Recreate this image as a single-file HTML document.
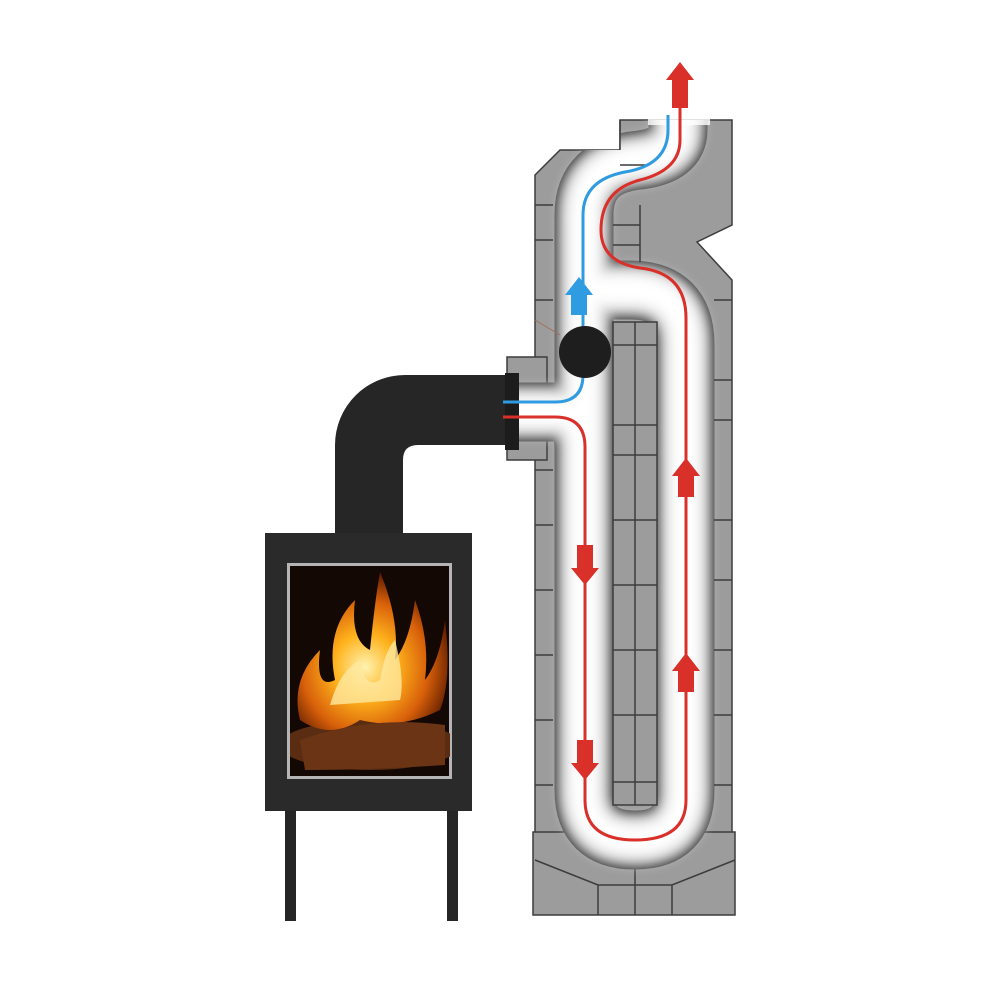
<!DOCTYPE html>
<html><head><meta charset="utf-8"><style>html,body{margin:0;padding:0;background:#fff}svg{display:block}</style></head>
<body>
<svg width="1000" height="1000" viewBox="0 0 1000 1000" xmlns="http://www.w3.org/2000/svg">
<defs>
<filter id="bl" x="-20%" y="-20%" width="140%" height="140%"><feGaussianBlur stdDeviation="5"/></filter>
<radialGradient id="fire" cx="0.45" cy="0.6" r="0.6">
<stop offset="0" stop-color="#fff3b0"/><stop offset="0.35" stop-color="#ffb21c"/><stop offset="0.7" stop-color="#d8600a"/><stop offset="1" stop-color="#5a1a00"/></radialGradient>
<clipPath id="cw"><rect x="290" y="566" width="160" height="211"/></clipPath>
<clipPath id="chc"><path d="M535,175 L560,150 L620,150 L620,120 L732,120 L732,225 L697,242 L732,280 L732,835 L735,835 L735,915 L533,915 L533,835 L535,835 Z M507,357 H547 V460 H507 Z"/></clipPath>
</defs>

<!-- chimney gray body -->
<g fill="#9c9c9c" stroke="#3c3c3c" stroke-width="1.5">
<path d="M535,175 L560,150 L620,150 L620,120 L732,120 L732,225 L697,242 L732,280 L732,835 L535,835 Z"/>
<rect x="507" y="357" width="40" height="103"/>
<path d="M533,832 L735,832 L735,915 L533,915 Z"/>
</g>
<g stroke="#3c3c3c" stroke-width="1.5" fill="none">
<path d="M535,860 L598,885 H672 L735,860 M635,865 V915 M598,885 V915 M672,885 V915"/>
</g>
<!-- channel -->
<g fill="none" stroke-linecap="butt" stroke-linejoin="round" clip-path="url(#chc)">
<path d="M505,412 H555 Q584,412 584,450 V790 Q584,840 635,840 Q685,840 685,790 V345 Q685,290 630,290 H590" stroke="#3c3c3c" stroke-width="59"/>
<path d="M584,450 V215 Q584,165 640,160 Q678,155 678,130 V100" stroke="#3c3c3c" stroke-width="59"/>
<g filter="url(#bl)">
<path d="M505,412 H555 Q584,412 584,450 V790 Q584,840 635,840 Q685,840 685,790 V345 Q685,290 630,290 H590" stroke="#bdbdbd" stroke-width="54"/>
<path d="M584,450 V215 Q584,165 640,160 Q678,155 678,130 V100" stroke="#bdbdbd" stroke-width="54"/>
<path d="M505,412 H555 Q584,412 584,450 V790 Q584,840 635,840 Q685,840 685,790 V345 Q685,290 630,290 H590" stroke="#f2f2f2" stroke-width="38"/>
<path d="M584,450 V215 Q584,165 640,160 Q678,155 678,130 V100" stroke="#f2f2f2" stroke-width="38"/>
<path d="M505,412 H555 Q584,412 584,450 V790 Q584,840 635,840 Q685,840 685,790 V345 Q685,290 630,290 H590" stroke="#fff" stroke-width="22"/>
<path d="M584,450 V215 Q584,165 640,160 Q678,155 678,130 V100" stroke="#fff" stroke-width="22"/>
</g>
</g>
<!-- top opening fade -->
<rect x="648" y="100" width="62" height="25" fill="#fff" opacity="0.8"/>
<!-- inner column -->
<g fill="#9c9c9c" stroke="#3c3c3c" stroke-width="1.5">
<rect x="613" y="322" width="44" height="483"/>
</g>
<g stroke="#3c3c3c" stroke-width="1.5" fill="none">
<line x1="635" y1="322" x2="635" y2="805"/>
<path d="M613,345 H657 M613,425 H657 M613,455 H657 M613,520 H657 M613,585 H657 M613,650 H657 M613,715 H657 M613,782 H657"/>
<path d="M535,470 H553 M535,525 H553 M535,590 H553 M535,655 H553 M535,720 H553 M535,785 H553 M535,300 H553 M535,240 H553 M535,205 H553"/>
<path d="M714,300 H732 M714,380 H732 M714,420 H732 M714,520 H732 M714,580 H732 M714,650 H732 M714,715 H732 M714,785 H732"/>
<path d="M613,225 H640 M613,245 H640 M640,205 V262 M620,120 V150 M620,165 H648"/>
</g>

<!-- stove pipe -->
<path d="M335,535 V445 A70,70 0 0 1 405,375 H517 V445 H418 Q403,445 403,460 V535 Z" fill="#262626"/>
<rect x="505" y="373" width="14" height="77" fill="#1c1c1c"/>
<!-- stove -->
<rect x="265" y="533" width="207" height="278" fill="#2a2a2a"/>
<rect x="287" y="563" width="165" height="216" fill="#b5b5b5"/>
<rect x="290" y="566" width="159" height="210" fill="#140804"/>
<g clip-path="url(#cw)">
<ellipse cx="370" cy="745" rx="90" ry="25" fill="#5a2c12"/>
<path d="M300,720 Q290,680 320,650 Q315,690 335,680 Q325,630 355,600 Q350,640 370,650 Q375,600 380,572 Q400,620 395,660 Q410,640 415,600 Q430,640 425,680 Q440,660 445,620 Q452,680 440,710 Q400,730 360,720 Q330,740 300,720 Z" fill="url(#fire)"/>
<path d="M330,705 Q340,670 360,660 Q365,690 380,680 Q385,650 395,640 Q405,680 400,700 Z" fill="#ffe9a0" opacity="0.8"/>
<path d="M300,740 Q370,715 445,725 L445,765 Q370,770 305,770 Z" fill="#6b3515"/>
</g>
<rect x="285" y="811" width="11" height="110" fill="#262626"/>
<rect x="447" y="811" width="11" height="110" fill="#262626"/>

<!-- flow lines -->
<g fill="none" stroke-width="3">
<path d="M503,417 H555 Q585,417 585,447 V800 Q585,840 635,840 Q686,840 686,800 V318 Q686,273 640,268 Q601,262 601,230 Q601,190 640,180 Q680,170 680,140 V100" stroke="#d9302a"/>
<path d="M503,402 H555 Q583,402 583,375 V215 Q583,180 625,172 Q668,165 668,130 V115" stroke="#2f9be0"/>
</g>
<line x1="535" y1="320" x2="560" y2="335" stroke="#a0705a" stroke-width="1"/>
<circle cx="585" cy="352" r="26" fill="#1e1e1e"/>
<!-- arrows -->
<g fill="#d9302a">
<path d="M672,108 V80 H666 L680,62 L694,80 H688 V108 Z"/>
<path d="M577,545 H593 V568 H599 L585,585 L571,568 H577 Z"/>
<path d="M577,740 H593 V763 H599 L585,780 L571,763 H577 Z"/>
<path d="M678,497 H694 V476 H700 L686,458 L672,476 H678 Z"/>
<path d="M678,692 H694 V671 H700 L686,653 L672,671 H678 Z"/>
</g>
<path d="M571,315 H587 V295 H593 L579,277 L565,295 H571 Z" fill="#2f9be0"/>
</svg>
</body></html>
